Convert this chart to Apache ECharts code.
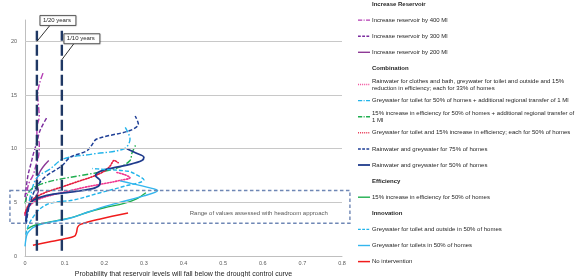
<!DOCTYPE html>
<html>
<head>
<meta charset="utf-8">
<script src="https://cdn.jsdelivr.net/npm/echarts@6/dist/echarts.min.js"></script>
<style>
html, body { margin: 0; padding: 0; background: #fff; }
#chart { width: 576px; height: 277px; }
</style>
</head>
<body>
<div id="chart"></div>
<script>
// axis ticks
const xTicks = [0, 0.1, 0.2, 0.3, 0.4, 0.5, 0.6, 0.7, 0.8]
const yTicks = [0, 5, 10, 15, 20]

// curves: [probability, uncertainty]
const reservoir400 = [[0.002,5.0],[0.005,6.0],[0.01,6.8],[0.02,7.5],[0.028,8.5],[0.035,9.5],[0.036,10.5],[0.03,11.2],[0.03,12.0],[0.036,13.0],[0.034,14.0],[0.032,15.0],[0.036,16.0],[0.046,17.1]]
const reservoir300 = [[0,5.5],[0.003,6.4],[0.008,7.6],[0.015,8.6],[0.021,9.5],[0.03,10.6],[0.038,11.7],[0.055,12.9]]
const reservoir200 = [[0,3.8],[0.004,4.3],[0.012,4.8],[0.021,5.2],[0.03,5.7],[0.034,6.1],[0.03,6.6],[0.029,7.0],[0.033,7.5],[0.04,8.0],[0.05,8.5],[0.06,8.9]]
const rainClothes = [[0,3.8],[0.005,4.3],[0.015,4.8],[0.035,5.3],[0.07,5.7],[0.11,6.05],[0.15,6.4],[0.2,6.75],[0.24,7.05],[0.265,7.3],[0.25,7.6],[0.23,7.8]]
const greyRegional = [[0.003,3.0],[0.008,4.5],[0.015,5.8],[0.03,7.3],[0.063,8.1],[0.097,9.05],[0.17,9.5],[0.25,10.0],[0.265,10.9],[0.253,12.0]]
const effRegional = [[0,4.9],[0.005,5.6],[0.015,6.2],[0.04,6.7],[0.08,7.1],[0.14,7.5],[0.2,7.9],[0.24,8.3],[0.265,8.9],[0.27,9.6],[0.28,10.4]]
const greyEff = [[0,4.0],[0.008,4.7],[0.02,5.3],[0.05,5.9],[0.09,6.4],[0.13,6.9],[0.17,7.4],[0.2,7.9],[0.215,8.4],[0.225,8.9],[0.235,8.7]]
const rain75 = [[0.003,3.0],[0.008,4.2],[0.015,5.2],[0.03,6.5],[0.055,7.5],[0.093,8.4],[0.114,9.2],[0.156,9.8],[0.168,10.3],[0.181,10.9],[0.265,11.7],[0.286,12.3],[0.278,13.05]]
const rain50 = [[0.002,3.2],[0.005,4.1],[0.012,4.8],[0.021,5.2],[0.055,5.65],[0.114,5.95],[0.16,6.2],[0.185,6.5],[0.19,7.0],[0.178,7.5],[0.19,7.9],[0.22,8.2],[0.26,8.5],[0.295,8.9],[0.3,9.2],[0.28,9.6],[0.257,10.0]]
const efficiency15 = [[0.005,2.5],[0.02,2.8],[0.04,3.0],[0.08,3.3],[0.12,3.6],[0.16,4.1],[0.2,4.5],[0.25,4.9],[0.28,5.3],[0.305,5.9]]
const greyOutside = [[0.002,2.0],[0.008,2.8],[0.02,3.6],[0.035,4.3],[0.055,4.8],[0.08,5.05],[0.12,5.2],[0.19,5.9],[0.25,6.5],[0.3,7.1],[0.28,7.6],[0.26,7.9],[0.19,8.1],[0.17,8.15]]
const greyToilets = [[0,0.9],[0.002,1.5],[0.005,2.0],[0.01,2.3],[0.02,2.65],[0.04,2.95],[0.07,3.2],[0.11,3.5],[0.16,4.1],[0.2,4.6],[0.25,5.1],[0.3,5.6],[0.335,6.1],[0.31,6.4],[0.27,6.75],[0.24,7.0]]
const noIntervention = [[0.02,1.0],[0.06,1.3],[0.1,1.6],[0.125,1.85],[0.13,2.2],[0.133,2.7],[0.14,2.95],[0.19,3.45],[0.26,4.0]]

// return period thresholds
const returnPeriodX = [0.03, 0.093]
const returnPeriodLabels = ['1/20 years', '1/10 years']
const returnPeriodAnchorY = [20, 18.3]
const thresholdSpan = [0.5, 21]
const headroomRange = [3.05, 6.1]

const DOT = [1.2, 1.6]
const DASH = [4, 2]
const DASHDOT = [6, 2, 1.5, 2]

// legend rows (no data = group header)
const rows = [
	{ text: 'Increase Reservoir' },
	{ text: 'Increase reservoir by 400 Ml', data: reservoir400, color: '#b33bb3', type: DASHDOT, width: 1.4 },
	{ text: 'Increase reservoir by 300 Ml', data: reservoir300, color: '#7b2c9e', type: DASH, width: 1.4 },
	{ text: 'Increase reservoir by 200 Ml', data: reservoir200, color: '#8e3a96', type: 'solid', width: 1.4 },
	{ text: 'Combination' },
	{ text: 'Rainwater for clothes and bath, greywater for toilet and outside and 15%\nreduction in efficiency; each for 33% of homes', data: rainClothes, color: '#f0368f', type: DOT, width: 1.6 },
	{ text: 'Greywater for toilet for 50% of homes + additional regional transfer of 1 Ml', data: greyRegional, color: '#22b4ea', type: DASHDOT, width: 1.4 },
	{ text: '15% increase in efficiency for 50% of homes + additional regional transfer of\n1 Ml', data: effRegional, color: '#1fae4f', type: DASHDOT, width: 1.4 },
	{ text: 'Greywater for toilet and 15% increase in efficiency; each for 50% of homes', data: greyEff, color: '#e5193b', type: DOT, width: 1.6 },
	{ text: 'Rainwater and greywater for 75% of homes', data: rain75, color: '#1f3f96', type: DASH, width: 1.5 },
	{ text: 'Rainwater and greywater for 50% of homes', data: rain50, color: '#1f3b8c', type: 'solid', width: 1.8 },
	{ text: 'Efficiency' },
	{ text: '15% increase in efficiency for 50% of homes', data: efficiency15, color: '#1fae4f', type: 'solid', width: 1.4 },
	{ text: 'Innovation' },
	{ text: 'Greywater for toilet and outside in 50% of homes', data: greyOutside, color: '#22b4ea', type: DASH, width: 1.4 },
	{ text: 'Greywater for toilets in 50% of homes', data: greyToilets, color: '#33b6ee', type: 'solid', width: 1.4 },
	{ text: 'No intervention', data: noIntervention, color: '#f01c1c', type: 'solid', width: 1.5 }
]

const FONT = 'Liberation Sans'

const series = rows.filter(r => r.data).map(r => ({
	name: r.text,
	type: 'line',
	data: r.data,
	smooth: 0.35,
	showSymbol: false,
	symbol: 'none',
	clip: false,
	lineStyle: { color: r.color, type: r.type, width: r.width, cap: r.type === DOT ? 'round' : 'butt' },
	z: 3
}))

returnPeriodX.forEach((x, i) => {
	series.push({
		name: returnPeriodLabels[i],
		type: 'line',
		data: [[x, thresholdSpan[0]], [x, thresholdSpan[1]]],
		showSymbol: false,
		symbol: 'none',
		clip: false,
		lineStyle: { color: '#1f3864', type: [11, 4], width: 2.4 },
		z: 5
	})
})

// horizontal grid lines
series.push({
	type: 'line',
	data: [],
	markLine: {
		silent: true,
		symbol: 'none',
		label: { show: false },
		lineStyle: { color: '#c8c8c8', type: 'solid', width: 1 },
		data: yTicks.filter(v => v > 0).map(v => ({ yAxis: v }))
	},
	z: 1
})

const option = {
	animation: false,
	backgroundColor: '#fff',
	grid: { left: 25, right: 234, top: 20, bottom: 21, containLabel: false, outerBoundsMode: 'none' },
	xAxis: {
		type: 'value',
		min: xTicks[0],
		max: xTicks[xTicks.length - 1],
		interval: 0.1,
		name: 'Probability that reservoir levels will fall below the drought control curve',
		nameLocation: 'middle',
		nameGap: 12,
		nameTextStyle: { fontFamily: FONT, fontSize: 7, color: '#262626' },
		axisLine: { lineStyle: { color: '#bfbfbf' } },
		axisTick: { show: false },
		axisLabel: { fontFamily: FONT, fontSize: 5.5, color: '#595959', margin: 4 },
		splitLine: { show: false }
	},
	yAxis: {
		type: 'value',
		min: 0,
		max: 22,
		interval: 5,
		name: 'Uncertainty \u27F6',
		nameLocation: 'middle',
		nameRotate: 90,
		nameGap: 16,
		nameTextStyle: { fontFamily: FONT, fontSize: 7, color: '#262626' },
		axisLine: { show: true, lineStyle: { color: '#bfbfbf' } },
		axisTick: { show: false },
		axisLabel: {
			fontFamily: FONT, fontSize: 5.5, color: '#595959', margin: 8,
			formatter: v => (yTicks.indexOf(v) >= 0 ? String(v) : '')
		},
		splitLine: { show: false }
	},
	series: series
}

const chart = echarts.init(document.getElementById('chart'))
chart.setOption(option)

const px = p => chart.convertToPixel({ gridIndex: 0 }, p)
const graphics = []

// headroom box
const boxTL = px([-0.038, headroomRange[1]])
const boxBR = px([0.82, headroomRange[0]])
graphics.push({
	type: 'rect',
	shape: { x: boxTL[0], y: boxTL[1], width: boxBR[0] - boxTL[0], height: boxBR[1] - boxTL[1] },
	style: { fill: null, stroke: '#6f87b5', lineWidth: 1.4, lineDash: [3.5, 2.5] },
	z: 10
})
const noteAt = px([0.59, 4.0])
graphics.push({
	type: 'text',
	x: noteAt[0], y: noteAt[1],
	style: { text: 'Range of values assessed with headroom approach', font: '6px ' + FONT, fill: '#595959', textAlign: 'center', textVerticalAlign: 'middle' },
	z: 10
})

// return period callouts
returnPeriodX.forEach((x, i) => {
	const a = px([x, returnPeriodAnchorY[i]])
	const bx = a[0] + (i === 0 ? 3 : 2)
	const by = a[1] - 26
	graphics.push({
		type: 'line',
		shape: { x1: a[0], y1: a[1], x2: bx + 10, y2: by + 10 },
		style: { stroke: '#000', lineWidth: 0.8 },
		z: 11
	})
	graphics.push({
		type: 'rect',
		shape: { x: bx, y: by, width: 36, height: 10 },
		style: { fill: '#fff', stroke: '#404040', lineWidth: 0.8, shadowBlur: 1, shadowColor: 'rgba(0,0,0,0.3)', shadowOffsetX: 0.5, shadowOffsetY: 0.5 },
		z: 11
	})
	graphics.push({
		type: 'text',
		x: bx + 3, y: by + 5,
		style: { text: returnPeriodLabels[i], font: '6px ' + FONT, fill: '#262626', textVerticalAlign: 'middle' },
		z: 12
	})
})

// legend
const legendX = 358
rows.forEach((r, i) => {
	const y = 4 + 16.1 * i
	if (r.data) {
		graphics.push({
			type: 'line',
			shape: { x1: legendX, y1: y, x2: legendX + 12, y2: y },
			style: { stroke: r.color, lineWidth: r.width, lineDash: Array.isArray(r.type) ? r.type.map(v => v * 0.7) : null },
			z: 10
		})
	}
	graphics.push({
		type: 'text',
		x: legendX + 14,
		y: y,
		style: {
			text: r.text,
			font: (r.data ? '' : 'bold ') + '6px ' + FONT,
			fill: '#262626',
			textVerticalAlign: 'middle',
			lineHeight: 7
		},
		z: 10
	})
})

chart.setOption({ graphic: graphics })
</script>
</body>
</html>
